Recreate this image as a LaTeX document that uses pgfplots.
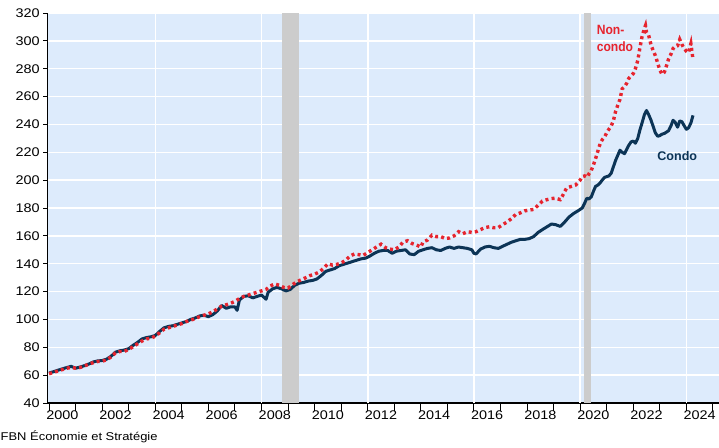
\documentclass[border=0pt]{standalone}
\usepackage{fontspec}
\setmainfont{Liberation Sans}
\newfontfamily\widefont{Liberation Sans}[FakeStretch=1.15]
\newfontfamily\narrowfont{Liberation Sans}[FakeStretch=0.9]
\usepackage{pgfplots}
\usepackage{pgfplotstable}
\pgfplotsset{compat=1.18}
\definecolor{bgblue}{RGB}{221,235,252}
\definecolor{recgray}{RGB}{204,204,204}
\definecolor{navy}{RGB}{12,52,86}
\definecolor{fbred}{RGB}{230,36,46}

\pgfplotstableread{
x y
2000.00 61.5
2000.17 62.5
2000.33 63.5
2000.50 64.5
2000.67 65.5
2000.83 66.3
2001.00 65.0
2001.17 65.8
2001.33 66.8
2001.50 68.0
2001.67 69.5
2001.83 70.2
2002.00 70.5
2002.17 71.5
2002.33 73.5
2002.50 76.5
2002.67 77.5
2002.83 78.0
2003.00 79.0
2003.17 81.5
2003.33 83.5
2003.50 86.0
2003.67 87.0
2003.83 87.5
2004.00 88.5
2004.17 91.5
2004.33 94.0
2004.50 95.0
2004.67 95.5
2004.83 96.5
2005.00 97.5
2005.17 98.5
2005.33 100.0
2005.50 101.0
2005.67 102.5
2005.83 103.0
2006.00 102.0
2006.17 103.5
2006.33 106.0
2006.50 110.0
2006.67 108.0
2006.83 109.0
2007.00 109.0
2007.08 106.5
2007.17 114.0
2007.33 116.5
2007.50 117.0
2007.67 115.5
2007.83 116.5
2008.00 117.5
2008.17 114.5
2008.25 119.5
2008.42 122.0
2008.58 123.0
2008.75 122.0
2008.92 120.5
2009.08 121.5
2009.25 124.5
2009.42 126.0
2009.58 126.5
2009.75 127.5
2009.92 128.0
2010.08 129.0
2010.25 131.5
2010.42 134.5
2010.58 135.5
2010.75 136.5
2010.92 138.5
2011.08 139.5
2011.25 140.5
2011.42 141.5
2011.58 142.5
2011.75 143.5
2011.92 144.0
2012.08 145.5
2012.25 147.5
2012.42 149.0
2012.58 149.5
2012.75 149.5
2012.92 147.5
2013.08 149.0
2013.25 149.5
2013.42 150.0
2013.58 147.0
2013.75 146.5
2013.92 149.0
2014.08 150.0
2014.25 151.0
2014.42 151.5
2014.58 150.0
2014.75 149.5
2014.92 151.0
2015.08 152.0
2015.25 151.0
2015.42 152.0
2015.58 151.5
2015.75 151.0
2015.92 150.0
2016.00 147.5
2016.08 147.0
2016.25 150.5
2016.42 152.0
2016.58 152.5
2016.75 151.5
2016.92 151.0
2017.08 152.5
2017.25 154.0
2017.42 155.5
2017.58 156.5
2017.75 157.5
2017.92 157.5
2018.08 158.0
2018.25 159.5
2018.42 162.5
2018.58 164.5
2018.75 166.5
2018.92 168.5
2019.08 168.0
2019.25 166.8
2019.42 170.0
2019.58 173.5
2019.75 176.0
2019.92 178.0
2020.08 180.0
2020.17 183.5
2020.25 187.0
2020.33 186.5
2020.42 188.0
2020.50 192.0
2020.58 195.5
2020.67 196.5
2020.75 198.0
2020.83 200.0
2020.92 202.0
2021.00 202.5
2021.08 203.0
2021.17 205.0
2021.25 209.5
2021.33 214.0
2021.42 218.0
2021.50 221.5
2021.58 220.0
2021.67 219.0
2021.75 222.0
2021.83 225.0
2021.92 227.5
2022.00 228.0
2022.08 226.5
2022.17 230.0
2022.25 236.0
2022.33 241.0
2022.42 247.0
2022.50 250.0
2022.58 247.0
2022.67 243.0
2022.75 238.5
2022.83 234.0
2022.92 231.5
2023.00 232.0
2023.08 233.0
2023.17 233.5
2023.25 234.5
2023.33 235.5
2023.42 239.0
2023.50 243.0
2023.58 241.5
2023.67 238.0
2023.75 242.5
2023.83 242.0
2023.92 239.0
2024.00 236.5
2024.08 237.5
2024.17 241.0
2024.25 246.5
}\condo

\pgfplotstableread{
x y
2000.00 61.0
2000.17 62.0
2000.33 63.0
2000.50 64.0
2000.67 65.0
2000.83 65.5
2001.00 65.0
2001.17 65.5
2001.33 66.5
2001.50 68.0
2001.67 69.0
2001.83 69.8
2002.00 70.0
2002.17 71.0
2002.33 73.0
2002.50 76.0
2002.67 77.0
2002.83 77.0
2003.00 78.5
2003.17 80.5
2003.33 82.5
2003.50 84.5
2003.67 86.0
2003.83 86.5
2004.00 88.0
2004.17 90.5
2004.33 93.0
2004.50 94.0
2004.67 95.0
2004.83 96.0
2005.00 97.0
2005.17 98.5
2005.33 99.5
2005.50 100.5
2005.67 102.0
2005.83 103.0
2006.00 104.0
2006.17 105.5
2006.33 107.5
2006.50 109.5
2006.67 110.5
2006.83 111.5
2007.00 113.0
2007.17 115.0
2007.33 116.5
2007.50 117.5
2007.67 118.5
2007.83 119.5
2008.00 120.5
2008.17 121.5
2008.33 124.0
2008.50 125.5
2008.67 124.5
2008.83 123.0
2009.00 122.5
2009.17 125.0
2009.33 127.0
2009.50 128.5
2009.67 130.0
2009.83 131.5
2010.00 132.5
2010.17 134.0
2010.33 136.5
2010.50 140.0
2010.67 139.0
2010.83 139.5
2011.00 140.5
2011.17 142.5
2011.33 145.5
2011.50 147.0
2011.67 146.5
2011.83 146.0
2012.00 148.0
2012.17 150.0
2012.33 152.0
2012.50 154.0
2012.67 151.5
2012.83 150.5
2013.00 150.0
2013.17 152.0
2013.33 155.5
2013.50 156.5
2013.67 154.5
2013.83 153.5
2014.00 152.0
2014.08 155.5
2014.25 157.0
2014.42 160.5
2014.58 159.5
2014.75 159.5
2014.92 158.0
2015.08 158.5
2015.25 160.0
2015.42 163.0
2015.58 161.5
2015.75 163.0
2015.92 162.5
2016.08 163.0
2016.25 164.5
2016.42 166.0
2016.58 166.5
2016.75 165.8
2016.92 166.0
2017.08 168.0
2017.25 170.0
2017.42 172.5
2017.58 175.5
2017.75 176.5
2017.92 178.0
2018.08 178.5
2018.25 179.0
2018.42 182.0
2018.58 185.0
2018.75 186.0
2018.92 186.8
2019.08 187.0
2019.25 186.0
2019.33 188.5
2019.42 192.0
2019.50 194.5
2019.67 195.5
2019.83 196.5
2020.00 200.0
2020.08 202.5
2020.17 203.0
2020.25 202.0
2020.33 204.5
2020.42 207.0
2020.50 211.0
2020.58 215.5
2020.67 221.0
2020.75 226.0
2020.83 229.0
2020.92 231.0
2021.00 234.0
2021.08 236.5
2021.17 239.0
2021.25 242.5
2021.33 249.0
2021.42 254.0
2021.50 258.0
2021.58 265.5
2021.67 267.0
2021.75 269.5
2021.83 273.0
2021.92 275.0
2022.00 276.5
2022.08 280.0
2022.17 286.0
2022.25 295.0
2022.33 303.0
2022.42 309.0
2022.46 311.0
2022.50 306.0
2022.58 304.0
2022.67 297.0
2022.75 293.0
2022.83 289.5
2022.92 284.0
2023.00 279.0
2023.08 276.0
2023.17 277.5
2023.25 282.0
2023.33 287.0
2023.42 290.5
2023.50 294.5
2023.58 296.0
2023.67 296.5
2023.75 301.0
2023.83 297.5
2023.92 294.5
2024.00 292.5
2024.08 291.5
2024.17 298.0
2024.25 286.5
}\noncondo

\begin{document}
\begin{tikzpicture}
\path[use as bounding box] (0,0) rectangle (719bp,448bp);
\begin{axis}[
  at={(47.5bp,45bp)}, anchor=south west,
  scale only axis, width=671bp, height=390bp,
  xmin=1999.94, xmax=2025.21, ymin=40, ymax=320,
  axis x line*=bottom, axis y line*=left,
  axis line style={-, black, line width=1.1bp},
  axis background/.style={fill=bgblue},
  tick align=outside,
  xtick={2000,...,2025},
  xticklabels={2000,,2002,,2004,,2006,,2008,,2010,,2012,,2014,,2016,,2018,,2020,,2022,,2024,},
  xticklabel style={xshift=13.3bp, font=\widefont\fontsize{12.6}{14}\selectfont},
  minor x tick num=3,
  xtick style={black, line width=0.9bp, /pgfplots/major tick length=8bp, /pgfplots/minor tick length=4bp},
  ytick={40,60,...,320},
  yticklabel style={font=\widefont\fontsize{12.6}{14}\selectfont},
  ytick style={black, line width=0.9bp, /pgfplots/major tick length=4.5bp},
  /pgf/number format/assume math mode=true,
  ymajorgrids,
  major grid style={white, line width=1.3bp},
]
\draw[white, line width=1.6bp] (axis cs:2004,40) -- (axis cs:2004,320);
\draw[white, line width=1.6bp] (axis cs:2008,40) -- (axis cs:2008,320);
\draw[white, line width=1.6bp] (axis cs:2012,40) -- (axis cs:2012,320);
\draw[white, line width=1.6bp] (axis cs:2016,40) -- (axis cs:2016,320);
\draw[white, line width=1.6bp] (axis cs:2020,40) -- (axis cs:2020,320);
\draw[white, line width=1.6bp] (axis cs:2024,40) -- (axis cs:2024,320);
\addplot[fill=recgray, draw=none] coordinates {(2008.78,320) (2009.42,320)} \closedcycle;
\addplot[fill=recgray, draw=none] coordinates {(2020.15,320) (2020.41,320)} \closedcycle;
\addplot[navy, line width=3bp, line join=round] table[x=x,y=y] {\condo};
\addplot[fbred, line width=3.4bp, dash pattern=on 3bp off 3.2bp] table[x=x,y=y] {\noncondo};
\node[anchor=north west, align=left, inner sep=0pt, text=fbred, font=\narrowfont\bfseries\fontsize{13.5}{17}\selectfont] at (axis cs:2020.62,311) {Non-\\condo};
\node[anchor=west, inner sep=0pt, text=navy, font=\bfseries\fontsize{12.6}{14}\selectfont] at (axis cs:2022.9,217.5) {Condo};
\end{axis}
\node[anchor=base west, inner sep=0pt, font=\widefont\fontsize{11.3}{12}\selectfont] at (0.5bp,7.5bp) {FBN Économie et Stratégie};
\end{tikzpicture}
\end{document}
